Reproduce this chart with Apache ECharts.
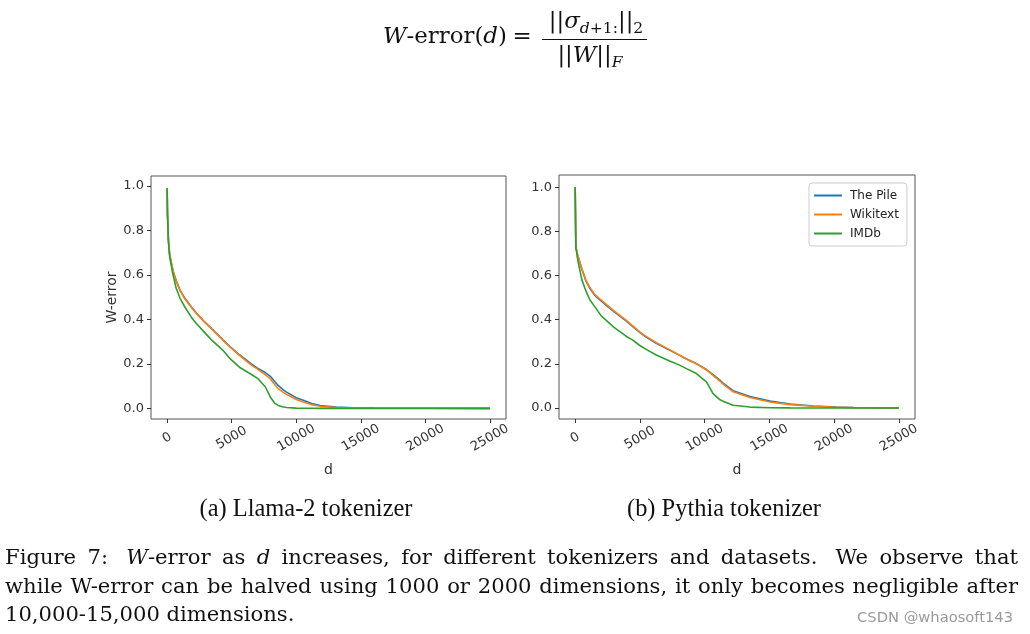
<!DOCTYPE html>
<html><head><meta charset="utf-8">
<script src="https://cdn.jsdelivr.net/npm/echarts@6/dist/echarts.min.js"></script>
<style>html,body{margin:0;padding:0;background:#fff}#c{width:1030px;height:634px}</style>
</head><body><div id="c"></div>
<script>
// ---------- data ----------
const seriesNames = ['The Pile', 'Wikitext', 'IMDb'];
const xTicks = [0, 5000, 10000, 15000, 20000, 25000];
const yTicks = [0, 0.2, 0.4, 0.6, 0.8, 1.0];

const llamaD = [0, 30, 100, 200, 440, 700, 1000, 1350, 1870, 2250, 3000, 3400, 4300, 4850, 5600, 6600, 7000, 7600, 8000, 8350, 8600, 9000, 9250, 10000, 10550, 11200, 11850, 13100, 14400, 16000, 20000, 25000];
const llamaPile = [0.99, 0.87, 0.756, 0.69, 0.621, 0.575, 0.532, 0.497, 0.457, 0.43, 0.383, 0.361, 0.309, 0.279, 0.241, 0.196, 0.181, 0.161, 0.144, 0.12, 0.103, 0.083, 0.073, 0.048, 0.036, 0.022, 0.013, 0.006, 0.002, 0.0008, 0.0002, 0];
const llamaWiki = [0.99, 0.87, 0.756, 0.69, 0.621, 0.573, 0.529, 0.494, 0.455, 0.428, 0.382, 0.36, 0.308, 0.277, 0.238, 0.191, 0.176, 0.152, 0.132, 0.106, 0.089, 0.072, 0.063, 0.04, 0.028, 0.016, 0.009, 0.004, 0.0015, 0.0005, 0.0001, 0];
const llamaImdb = [0.99, 0.87, 0.75, 0.68, 0.605, 0.54, 0.495, 0.458, 0.41, 0.383, 0.335, 0.31, 0.262, 0.225, 0.185, 0.15, 0.135, 0.097, 0.05, 0.022, 0.013, 0.006, 0.004, 0.001, 0.0004, 0.0001, 0, 0, 0, 0, 0, 0];

const pythiaD = [0, 50, 155, 233, 520, 830, 1140, 1500, 2000, 2380, 3000, 3930, 4450, 4965, 5350, 6260, 7290, 8068, 8600, 9360, 10140, 10650, 11170, 11430, 12200, 13500, 15050, 16600, 18400, 20200, 21500, 25000];
const pythiaPile = [1.0, 0.73, 0.70, 0.683, 0.627, 0.575, 0.541, 0.511, 0.485, 0.466, 0.436, 0.394, 0.368, 0.343, 0.326, 0.293, 0.262, 0.238, 0.222, 0.201, 0.174, 0.151, 0.126, 0.113, 0.078, 0.052, 0.031, 0.018, 0.009, 0.004, 0.002, 0];
const pythiaWiki = [1.0, 0.73, 0.70, 0.685, 0.63, 0.579, 0.545, 0.515, 0.489, 0.47, 0.44, 0.398, 0.372, 0.346, 0.329, 0.296, 0.264, 0.239, 0.222, 0.2, 0.172, 0.148, 0.122, 0.108, 0.073, 0.047, 0.027, 0.015, 0.008, 0.003, 0.0015, 0];
const pythiaImdb = [1.0, 0.73, 0.685, 0.66, 0.579, 0.53, 0.489, 0.46, 0.418, 0.398, 0.365, 0.325, 0.307, 0.284, 0.27, 0.24, 0.213, 0.194, 0.178, 0.156, 0.118, 0.065, 0.038, 0.03, 0.012, 0.004, 0.001, 0.0003, 0, 0, 0, 0];

const subCaptions = ['(a) Llama-2 tokenizer', '(b) Pythia tokenizer'];
const captionLines = [
  'Figure 7:  *W*-error as *d* increases, for different tokenizers and datasets.  We observe that',
  'while W-error can be halved using 1000 or 2000 dimensions, it only becomes negligible after',
  '10,000-15,000 dimensions.'
];
const watermark = 'CSDN @whaosoft143';

// ---------- helpers ----------
const colors = ['#1f77b4', '#ff7f0e', '#2ca02c'];
const SERIF = 'DejaVu Serif';
const SANS = 'DejaVu Sans';
const ctx = document.createElement('canvas').getContext('2d');
function segs(str) {
  return str.split('*').map((t, i) => ({ t, it: i % 2 === 1 })).filter(p => p.t.length);
}
function wWidth(word, fs, fam) {
  return segs(word).reduce((w, p) => {
    ctx.font = (p.it ? 'italic ' : '') + fs + 'px "' + fam + '"';
    return w + ctx.measureText(p.t).width;
  }, 0);
}
function richOf(word) {
  return segs(word).map(p => '{' + (p.it ? 'i' : 'n') + '|' + p.t + '}').join('');
}
function zip(a, b) { return a.map((v, i) => [v, b[i]]); }

const graphics = [];
function placeLine(line, x0, x1, y, fs, justified) {
  const words = line.split(' ');
  const toks = [], weights = [];
  let pend = 0;
  for (const w of words) {
    if (w === '') { pend += 0.6; continue; }
    if (toks.length) weights.push(1 + pend);
    pend = 0;
    toks.push(w);
  }
  const widths = toks.map(t => wWidth(t, fs, SERIF));
  const total = widths.reduce((a, b) => a + b, 0);
  const sw = wWidth(' ', fs, SERIF);
  const unit = justified ? (x1 - x0 - total) / weights.reduce((a, b) => a + b, 0) : sw;
  let x = x0;
  toks.forEach((t, i) => {
    graphics.push({
      type: 'text', x: x, y: y, silent: true,
      style: {
        text: richOf(t), fill: '#111', fontFamily: SERIF, fontSize: fs,
        align: 'left', verticalAlign: 'middle',
        rich: {
          n: { fontFamily: SERIF, fontSize: fs, fill: '#111' },
          i: { fontFamily: SERIF, fontSize: fs, fontStyle: 'italic', fill: '#111' }
        }
      }
    });
    x += widths[i] + (i < weights.length ? unit * weights[i] : 0);
  });
}

// caption
const natural2 = wWidth(captionLines[1].replace(/\*/g, ''), 21, SERIF);
let capFs = 21 * (1013 * 0.985) / natural2;
capFs = Math.max(17, Math.min(23, capFs));
placeLine(captionLines[0], 5, 1018, 559, capFs, true);
placeLine(captionLines[1], 5, 1018, 587.5, capFs, true);
placeLine(captionLines[2], 5, 1018, 616, capFs, false);

// sub captions
const subFam = 'Liberation Serif';
const subFs = 22 * 213 / wWidth(subCaptions[0], 22, subFam);
[[306, subCaptions[0]], [724, subCaptions[1]]].forEach(([cx, t]) => {
  graphics.push({
    type: 'text', x: cx, y: 510, silent: true,
    style: { text: t, fill: '#111', fontFamily: subFam, fontSize: subFs, align: 'center', verticalAlign: 'middle' }
  });
});

// watermark
const wmFs = 15 * 156 / wWidth(watermark, 15, SANS);
graphics.push({
  type: 'text', x: 1013, y: 618, silent: true,
  style: { text: watermark, fill: '#9a9a9a', fontFamily: SANS, fontSize: wmFs, align: 'right', verticalAlign: 'middle' }
});

// formula
const fFs = 23 * 124 / wWidth('*W*-error(*d*)', 23, SERIF);
const fRich = {
  n: { fontFamily: SERIF, fontSize: fFs, lineHeight: 30, fill: '#111' },
  i: { fontFamily: SERIF, fontSize: fFs, lineHeight: 30, fontStyle: 'italic', fill: '#111' },
  s: { fontFamily: SERIF, fontSize: fFs * 0.68, lineHeight: 15, verticalAlign: 'bottom', fill: '#111' },
  si: { fontFamily: SERIF, fontSize: fFs * 0.68, lineHeight: 15, verticalAlign: 'bottom', fontStyle: 'italic', fill: '#111' }
};
graphics.push({ type: 'text', x: 383, y: 37, silent: true,
  style: { text: '{i|W}{n|-error(}{i|d}{n|)}', align: 'left', verticalAlign: 'middle', fontFamily: SERIF, fontSize: fFs, rich: fRich } });
graphics.push({ type: 'text', x: 522, y: 37, silent: true,
  style: { text: '{n|=}', align: 'center', verticalAlign: 'middle', fontFamily: SERIF, fontSize: fFs, rich: fRich } });
graphics.push({ type: 'text', x: 596, y: 22, silent: true,
  style: { text: '{n|||}{i|σ}{si|d}{s|+1:}{n|||}{s|2}', align: 'center', verticalAlign: 'middle', fontFamily: SERIF, fontSize: fFs, rich: fRich } });
graphics.push({ type: 'line', silent: true, shape: { x1: 542, y1: 39.5, x2: 647, y2: 39.5 }, style: { stroke: '#111', lineWidth: 1.2 } });
graphics.push({ type: 'text', x: 590, y: 56, silent: true,
  style: { text: '{n|||}{i|W}{n|||}{si|F}', align: 'center', verticalAlign: 'middle', fontFamily: SERIF, fontSize: fFs, rich: fRich } });

// ---------- chart ----------
function xAxisCfg(gi) {
  return {
    type: 'value', gridIndex: gi, min: -1250, max: 26250, position: 'bottom',
    axisLine: { show: false, onZero: false }, splitLine: { show: false },
    axisTick: { show: true, customValues: xTicks, length: 4, lineStyle: { color: '#333', width: 1 } },
    axisLabel: { customValues: xTicks, rotate: 30, align: 'center', verticalAlign: 'middle', margin: 19,
      fontFamily: SANS, fontSize: 13, color: '#333', formatter: v => String(v) },
    name: 'd', nameLocation: 'middle', nameGap: 44, nameMoveOverlap: false,
    nameTextStyle: { fontFamily: SANS, fontSize: 14, color: '#333' }
  };
}
function yAxisCfg(gi, mn, mx, name) {
  return {
    type: 'value', gridIndex: gi, min: mn, max: mx, position: 'left',
    axisLine: { show: false, onZero: false }, splitLine: { show: false },
    axisTick: { show: true, customValues: yTicks, length: 4, lineStyle: { color: '#333', width: 1 } },
    axisLabel: { customValues: yTicks, margin: 7, fontFamily: SANS, fontSize: 13, color: '#333',
      formatter: v => v.toFixed(1) },
    name: name, nameLocation: 'middle', nameGap: 32, nameMoveOverlap: false,
    nameTextStyle: { fontFamily: SANS, fontSize: 14, color: '#333' }
  };
}
function lineSeries(name, xi, d, vals, ci) {
  return {
    type: 'line', name: name, xAxisIndex: xi, yAxisIndex: xi, data: zip(d, vals),
    symbol: 'none', showSymbol: false, smooth: false, z: 2 + ci,
    lineStyle: { color: colors[ci], width: 1.6 }, itemStyle: { color: colors[ci] }
  };
}

const chart = echarts.init(document.getElementById('c'), null, { renderer: 'canvas' });
chart.setOption({
  animation: false,
  backgroundColor: '#fff',
  grid: [
    { left: 151, top: 176, width: 355, height: 243, show: true, borderColor: '#555', borderWidth: 1, backgroundColor: 'transparent' },
    { left: 559, top: 175, width: 356, height: 244, show: true, borderColor: '#555', borderWidth: 1, backgroundColor: 'transparent' }
  ],
  xAxis: [xAxisCfg(0), xAxisCfg(1)],
  yAxis: [yAxisCfg(0, -0.048, 1.045, 'W-error'), yAxisCfg(1, -0.05, 1.055, '')],
  legend: {
    data: seriesNames, orient: 'vertical', left: 809, top: 183,
    icon: 'rect', itemWidth: 28, itemHeight: 2, itemGap: 6, padding: [6, 8, 6, 5],
    borderColor: '#ccc', borderWidth: 1, borderRadius: 3, backgroundColor: '#fff',
    textStyle: { fontFamily: SANS, fontSize: 12, color: '#222', padding: [0, 0, 0, 3], lineHeight: 13 }
  },
  series: [
    lineSeries(seriesNames[0], 0, llamaD, llamaPile, 0),
    lineSeries(seriesNames[1], 0, llamaD, llamaWiki, 1),
    lineSeries(seriesNames[2], 0, llamaD, llamaImdb, 2),
    lineSeries(seriesNames[0], 1, pythiaD, pythiaPile, 0),
    lineSeries(seriesNames[1], 1, pythiaD, pythiaWiki, 1),
    lineSeries(seriesNames[2], 1, pythiaD, pythiaImdb, 2)
  ],
  graphic: graphics
});
</script>
</body></html>
